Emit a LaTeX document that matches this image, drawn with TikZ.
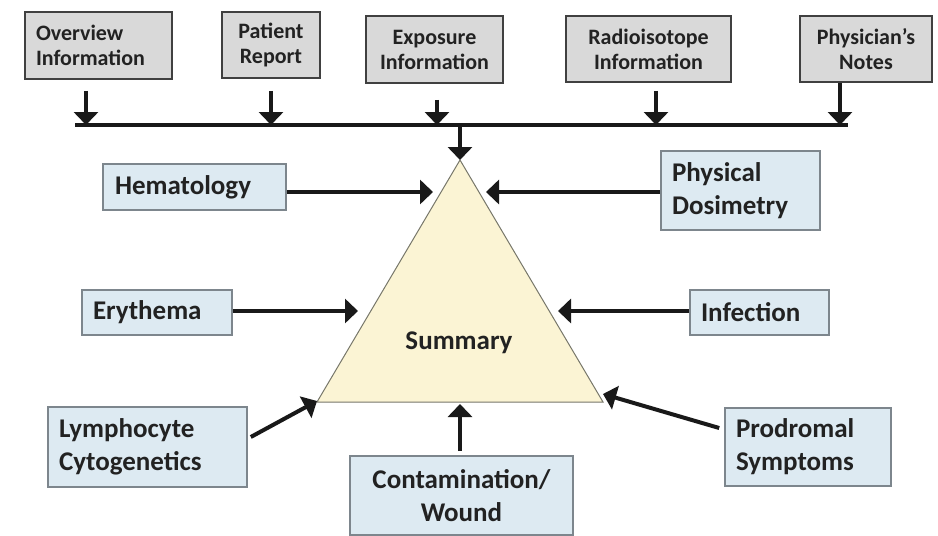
\documentclass[tikz,border=0pt]{standalone}
\usepackage{fontspec}
\setmainfont{Carlito}
\usetikzlibrary{arrows.meta}
\definecolor{grayfill}{HTML}{D9D9D9}
\definecolor{graydraw}{HTML}{404040}
\definecolor{bluefill}{HTML}{DDEAF2}
\definecolor{bluedraw}{HTML}{7D868D}
\definecolor{trifill}{HTML}{FBF4D4}
\definecolor{tridraw}{HTML}{77776A}
\definecolor{textc}{HTML}{222222}
\tikzset{
  box/.style={draw, line width=1.6pt, inner xsep=10pt, inner ysep=0pt, text=textc},
  topbox/.style={box, fill=grayfill, draw=graydraw, font=\bfseries\fontsize{22}{25}\selectfont},
  sidebox/.style={box, fill=bluefill, draw=bluedraw, font=\bfseries\fontsize{27}{33}\selectfont},
  arr/.style={line width=4pt, draw=black!90, -{Triangle[width=24pt,length=13pt]}},
  tri/.style={fill=trifill, draw=tridraw, line width=1pt, line join=miter},
}
\begin{document}
\begin{tikzpicture}[x=1pt,y=-1pt]
\useasboundingbox (0,0) rectangle (938,536);

% top boxes
\node[topbox, minimum width=147pt, minimum height=67pt, text width=125pt, align=left] (ov) at (98.5,45.5) {Overview\\Information};
\node[topbox, minimum width=98pt, minimum height=66pt, align=center] (pr) at (271,45) {Patient\\Report};
\node[topbox, minimum width=137pt, minimum height=67pt, align=center] (ex) at (434.5,49.5) {Exposure\\Information};
\node[topbox, minimum width=165pt, minimum height=66pt, align=center] (ra) at (648.5,49) {Radioisotope\\Information};
\node[topbox, minimum width=132pt, minimum height=66pt, align=center] (ph) at (866,49) {Physician’s\\Notes};

% bar
\coordinate (barL) at (75,125);
\coordinate (barR) at (848,125);
\coordinate (b1) at (86,125);
\coordinate (b2) at (271,125);
\coordinate (b3) at (437,125);
\coordinate (b4) at (656,125);
\coordinate (b5) at (840,125);
\coordinate (bc) at (460,125);
\draw[line width=4pt, black!90] (barL) -- (barR);
\draw[arr, shorten <=11pt] (ov.south -| b1) -- (b1);
\draw[arr, shorten <=12pt] (pr.south -| b2) -- (b2);
\draw[arr, shorten <=16pt] (ex.south -| b3) -- (b3);
\draw[arr, shorten <=8pt] (ra.south -| b4) -- (b4);
\draw[arr] (ph.south -| b5) -- (b5);

% triangle
\coordinate (apex) at (460,160);
\coordinate (bl) at (317,402);
\coordinate (br) at (603,402);
\draw[tri] (apex) -- (bl) -- (br) -- cycle;
\node[text=textc, font=\bfseries\fontsize{27}{33}\selectfont] (sum) at (459,343) {Summary};
\draw[arr] (bc) -- (apex);

% side boxes
\node[sidebox, minimum width=183pt, minimum height=46pt, text width=159pt, align=left] (hem) at (194.5,187) {Hematology};
\node[sidebox, minimum width=150pt, minimum height=45pt, text width=128pt, align=left] (ery) at (157,312.5) {Erythema};
\node[sidebox, minimum width=159pt, minimum height=79pt, text width=137pt, align=left] (phd) at (740.5,190.5) {Physical\\Dosimetry};
\node[sidebox, minimum width=139pt, minimum height=45pt, text width=117pt, align=left] (inf) at (759.5,312.5) {Infection};
\node[sidebox, minimum width=199pt, minimum height=80pt, text width=177pt, align=left] (lym) at (147.5,447) {Lymphocyte\\Cytogenetics};
\node[sidebox, minimum width=223pt, minimum height=79pt, align=center] (con) at (461.5,495.5) {Contamination/\\Wound};
\node[sidebox, minimum width=166pt, minimum height=78pt, text width=144pt, align=left] (pro) at (808,447) {Prodromal\\Symptoms};

% arrow targets
\coordinate (thm) at (433,192);
\coordinate (tery) at (358,311);
\coordinate (tphd) at (486,192);
\coordinate (tinf) at (558,311);
\coordinate (tlym) at (317,401);
\coordinate (tcon) at (460,404);
\coordinate (tpro) at (603,394);

\draw[arr] (hem.east |- thm) -- (thm);
\draw[arr] (ery.east |- tery) -- (tery);
\draw[arr] (phd.west |- tphd) -- (tphd);
\draw[arr] (inf.west |- tinf) -- (tinf);
\draw[arr] ([xshift=3pt,yshift=10pt]lym.east) -- (tlym);
\draw[arr, shorten <=4pt] (con.north -| tcon) -- (tcon);
\draw[arr] ([xshift=-5pt,yshift=19pt]pro.west) -- (tpro);
\end{tikzpicture}
\end{document}
